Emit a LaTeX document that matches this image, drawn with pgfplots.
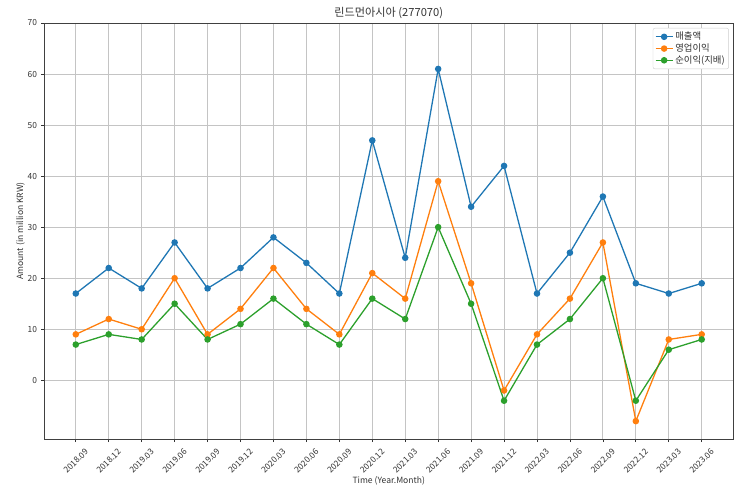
\documentclass[border=0pt]{standalone}
\usepackage{pgfplots}
\pgfplotsset{compat=1.18}
\usepackage{fontspec}
\setmainfont{Noto Sans CJK KR}
\definecolor{c0}{HTML}{1F77B4}
\definecolor{c1}{HTML}{FF7F0E}
\definecolor{c2}{HTML}{2CA02C}
\definecolor{gridc}{HTML}{C4C4C4}
\definecolor{txt}{HTML}{333333}
\begin{document}
\begin{tikzpicture}
\begin{axis}[
  scale only axis,
  width=688.5bp, height=416bp,
  xmin=-0.95, xmax=19.95,
  ymin=-11.5, ymax=70,
  ytick={0,10,20,30,40,50,60,70},
  xtick={0,...,19},
  xticklabels={2018.09,2018.12,2019.03,2019.06,2019.09,2019.12,2020.03,2020.06,2020.09,2020.12,2021.03,2021.06,2021.09,2021.12,2022.03,2022.06,2022.09,2022.12,2023.03,2023.06},
  /pgf/number format/assume math mode=true,
  tick align=outside,
  tick pos=left,
  major tick length=3bp,
  tick style={black!80, line width=0.7bp},
  axis line style={black!75, line width=0.8bp},
  grid=major,
  grid style={gridc, line width=0.8bp},
  tick label style={font=\fontsize{8.4}{10}\selectfont, text=txt},
  yticklabel style={xshift=-1bp},
  xticklabel style={inner sep=0.5bp, yshift=-19bp, rotate=45, anchor=center},
  title={린드먼아시아 (277070)},
  title style={font=\fontsize{11.2}{13}\selectfont, text=txt, at={(axis description cs:0.5,1)}, anchor=south, yshift=-5bp},
  xlabel={Time (Year.Month)},
  every axis x label/.style={at={(axis description cs:0.5,0)}, yshift=-42bp, anchor=center, font=\fontsize{8.6}{10}\selectfont, text=txt},
  ylabel={Amount (in million KRW)},
  every axis y label/.style={at={(axis description cs:0,0.5)}, xshift=-24bp, rotate=90, anchor=center, font=\fontsize{8.6}{10}\selectfont, text=txt},
  legend style={at={(0.994,0.988)}, anchor=north east, draw=black!20, rounded corners=2bp, fill=white, font=\fontsize{9.4}{11}\selectfont, text=txt, inner sep=2bp, row sep=-1.5bp, cells={anchor=west}},
  legend cell align=left,
  every axis plot/.append style={line width=1.3bp, mark=*, mark size=2.6bp},
]
\addplot[c0, mark options={fill=c0, draw=c0}] coordinates {
(0,17) (1,22) (2,18) (3,27) (4,18) (5,22) (6,28) (7,23) (8,17) (9,47)
(10,24) (11,61) (12,34) (13,42) (14,17) (15,25) (16,36) (17,19) (18,17) (19,19)};
\addlegendentry{매출액}
\addplot[c1, mark options={fill=c1, draw=c1}] coordinates {
(0,9) (1,12) (2,10) (3,20) (4,9) (5,14) (6,22) (7,14) (8,9) (9,21)
(10,16) (11,39) (12,19) (13,-2) (14,9) (15,16) (16,27) (17,-8) (18,8) (19,9)};
\addlegendentry{영업이익}
\addplot[c2, mark options={fill=c2, draw=c2}] coordinates {
(0,7) (1,9) (2,8) (3,15) (4,8) (5,11) (6,16) (7,11) (8,7) (9,16)
(10,12) (11,30) (12,15) (13,-4) (14,7) (15,12) (16,20) (17,-4) (18,6) (19,8)};
\addlegendentry{순이익(지배)}
\end{axis}
\pgfresetboundingbox
\path ([xshift=-44.5bp,yshift=-56bp]current axis.south west) rectangle ([xshift=10bp,yshift=23bp]current axis.north east);
\end{tikzpicture}
\end{document}
